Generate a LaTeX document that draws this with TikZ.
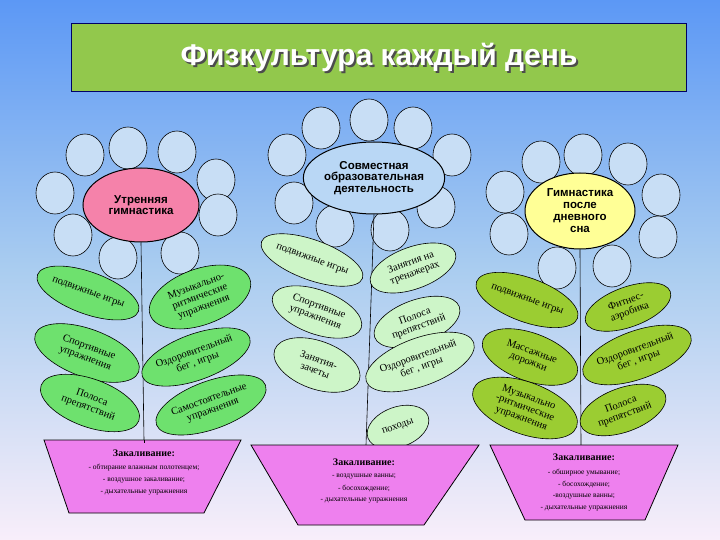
\documentclass[tikz,border=0pt]{standalone}
\usepackage{fontspec}
\setmainfont{Liberation Serif}
\newfontfamily\hsans{Liberation Sans}
\usetikzlibrary{shapes.geometric}
\definecolor{bgtop}{RGB}{92,152,245}
\definecolor{bgmid}{RGB}{170,205,240}
\definecolor{bgbot}{RGB}{248,238,250}
\definecolor{titlegreen}{RGB}{146,200,76}
\definecolor{petal}{RGB}{200,222,245}
\definecolor{pinkc}{RGB}{245,130,170}
\definecolor{bluec}{RGB}{185,215,245}
\definecolor{yelc}{RGB}{255,255,150}
\definecolor{leafA}{RGB}{110,225,110}
\definecolor{leafB}{RGB}{205,245,200}
\definecolor{leafC}{RGB}{155,205,50}
\definecolor{potc}{RGB}{238,128,238}
\tikzset{
 petalc/.style={draw=black,fill=petal,line width=0.6pt},
 heart/.style={ellipse,draw=black,line width=1pt,inner sep=0pt,align=center,font=\hsans\bfseries\fontsize{11.5}{11.5}\selectfont},
 leaf/.style={ellipse,draw=black,line width=0.6pt,inner sep=0pt,align=center,font=\fontsize{10.5}{11}\selectfont},
 leafa/.style={leaf,fill=leafA},
 leafb/.style={leaf,fill=leafB},
 leafc/.style={leaf,fill=leafC},
 stem/.style={draw=black,line width=0.6pt},
 pot/.style={draw=black,fill=potc,line width=0.8pt},
 pottitle/.style={font=\bfseries\fontsize{10}{10}\selectfont},
 potline/.style={font=\fontsize{7.5}{8}\selectfont},
}
\begin{document}
\begin{tikzpicture}[x=1pt,y=-1pt]
\useasboundingbox (0,0) rectangle (720,540);
\shade[top color=bgtop,bottom color=bgbot,middle color=bgmid] (0,0) rectangle (720,540);
% title
\node[draw=blue!40!black,fill=titlegreen,minimum width=615,minimum height=68,inner sep=0pt] (title) at (379,57) {};
\node[text=gray!60!black,font=\hsans\bfseries\fontsize{30}{30}\selectfont] at (381,59) {Физкультура каждый день};
\node[text=white,font=\hsans\bfseries\fontsize{30}{30}\selectfont] (tt) at (379,57) {Физкультура каждый день};
% petals
\foreach \x/\y in {85/155,128/148,177/152,216/180,55/193,218/215,73/235,118/258,180/253}
  \draw[petalc] (\x,\y) ellipse (19 and 21);
\foreach \x/\y in {369/120,321/128,413/128,287/155,452/155,294/203,436/207,335/226,390/230}
  \draw[petalc] (\x,\y) ellipse (19 and 21);
\foreach \x/\y in {583/155,541/162,628/164,505/192,661/195,509/234,658/237,557/268,612/266}
  \draw[petalc] (\x,\y) ellipse (19 and 21);
% hearts
\node[heart,fill=pinkc,minimum width=116,minimum height=74] (h1) at (141,205) {Утренняя\\гимнастика};
\node[heart,fill=bluec,minimum width=122,minimum height=72] (h2) at (374,178) {Совместная\\образовательная\\деятельность};
\node[heart,fill=yelc,minimum width=110,minimum height=76,font=\hsans\bfseries\fontsize{11.5}{12}\selectfont] (h3) at (580,211) {Гимнастика\\после\\дневного\\сна};
% pots coordinates
\coordinate (p1) at (144,440);
\coordinate (p2) at (366,445);
\coordinate (p3) at (581,445);
\draw[stem] (h1.south) -- (p1);
\draw[stem] (h2.south) -- (p2);
\draw[stem] (h3.south) -- (p3);
% left leaves
\node[leafa,minimum width=102,minimum height=42,rotate=-20] (a1) at (88,293) {подвижные игры};
\node[leafa,minimum width=106,minimum height=56,rotate=20] (a2) at (200,297) {Музыкально-\\ритмические\\упражнения};
\node[leafa,minimum width=110,minimum height=48,rotate=-20] (a3) at (87,353) {Спортивные\\упражнения};
\node[leafa,minimum width=110,minimum height=46,rotate=20] (a4) at (196,357) {Оздоровительный\\бег , игры};
\node[leafa,minimum width=104,minimum height=48,rotate=-20] (a5) at (90,403) {Полоса\\препятствий};
\node[leafa,minimum width=116,minimum height=48,rotate=20] (a6) at (211,405) {Самостоятельные\\упражнения};
% middle leaves
\node[leafb,minimum width=94,minimum height=40,rotate=-20] (b1) at (312,260) {подвижные игры};
\node[leafb,minimum width=90,minimum height=42,rotate=20] (b2) at (413,268) {Занятия на\\тренажерах};
\node[leafb,minimum width=94,minimum height=44,rotate=-20] (b3) at (317,312) {Спортивные\\упражнения};
\node[leafb,minimum width=90,minimum height=44,rotate=20] (b4) at (417,322) {Полоса\\препятствий};
\node[leafb,minimum width=90,minimum height=48,rotate=-20] (b5) at (317,365) {Занятия-\\зачеты};
\node[leafb,minimum width=104,minimum height=48,rotate=20] (b6) at (420,362) {Оздоровительный\\бег , игры};
\node[leafb,minimum width=64,minimum height=40,rotate=20] (b7) at (398,427) {походы};
% right leaves
\node[leafc,minimum width=104,minimum height=44,rotate=-20] (c1) at (527,300) {подвижные игры};
\node[leafc,minimum width=90,minimum height=40,rotate=20] (c2) at (628,307) {Фитнес-\\аэробика};
\node[leafc,minimum width=100,minimum height=48,rotate=-20] (c3) at (530,357) {Массажные\\дорожки};
\node[leafc,minimum width=110,minimum height=48,rotate=20] (c4) at (637,355) {Оздоровительный\\бег , игры};
\node[leafc,minimum width=110,minimum height=52,rotate=-20] (c5) at (525,408) {Музыкально\\-ритмические\\упражнения};
\node[leafc,minimum width=90,minimum height=44,rotate=20] (c6) at (623,410) {Полоса\\препятствий};
% pots
\draw[pot] (44,440) -- (241,440) -- (204,513) -- (69,513) -- cycle;
\draw[pot] (251,445) -- (479,445) -- (424,525) -- (298,525) -- cycle;
\draw[pot] (490,445) -- (678,445) -- (645,520) -- (525,520) -- cycle;
\draw[stem] (p1) -- ++(0,3);
\node[pottitle] (t1) at (144,453) {Закаливание:};
\node[potline] at (144,468) {- обтирание влажным полотенцем;};
\node[potline] at (144,481) {- воздушное закаливание;};
\node[potline] at (144,493) {- дыхательные упражнения};
\node[pottitle] (t2) at (364,462) {Закаливание:};
\node[potline] at (364,477) {- воздушные ванны;};
\node[potline] at (364,489) {- босохождение;};
\node[potline] at (364,501) {- дыхательные упражнения};
\node[pottitle] (t3) at (584,457) {Закаливание:};
\node[potline] at (584,473) {- обширное умывание;};
\node[potline] at (584,485) {- босохождение;};
\node[potline] at (584,497) {-воздушные ванны;};
\node[potline] at (584,509) {- дыхательные упражнения};
\end{tikzpicture}
\end{document}
